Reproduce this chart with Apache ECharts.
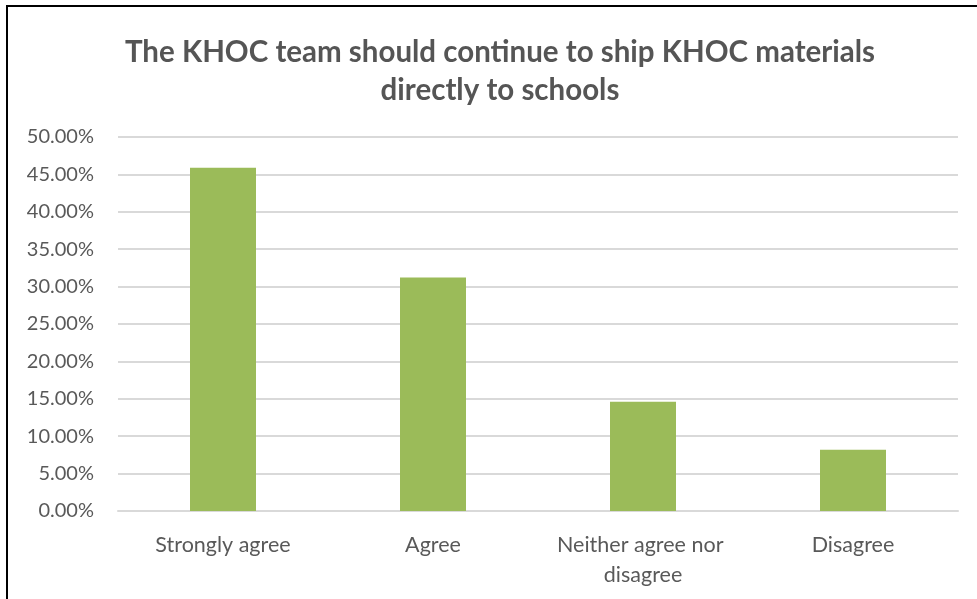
<!DOCTYPE html>
<html>
<head>
<meta charset="utf-8">
<script src="https://cdn.jsdelivr.net/npm/echarts@6/dist/echarts.min.js"></script>
<style>
  html, body { margin: 0; padding: 0; background: #fff; }
  #chart { width: 977px; height: 599px; }
</style>
</head>
<body>
<div id="chart"></div>
<script>
// Survey responses: share of respondents per answer
const titleText = 'The KHOC team should continue to ship KHOC materials\ndirectly to schools';
const categories = ['Strongly agree', 'Agree', 'Neither agree nor disagree', 'Disagree'];
const shares = [45.9, 31.2, 14.6, 8.2];
const yTicks = { min: 0, max: 50, interval: 5 };

const textColor = '#595959';
const fontFamily = 'Lato, "Open Sans", sans-serif';

const chart = echarts.init(document.getElementById('chart'), null, { renderer: 'canvas' });
chart.setOption({
  animation: false,
  backgroundColor: '#ffffff',
  title: {
    text: titleText,
    left: 495,
    textAlign: 'center',
    top: 28,
    textStyle: {
      color: '#555555',
      fontFamily: fontFamily,
      fontWeight: 'bold',
      fontSize: 29.5,
      lineHeight: 38
    }
  },
  graphic: [{
    type: 'rect',
    shape: { x: 7, y: 6, width: 1100, height: 1100 },
    style: { fill: 'none', stroke: '#000000', lineWidth: 2 },
    silent: true
  }],
  grid: { left: 118, right: 19, top: 137, bottom: 88, containLabel: false },
  xAxis: {
    type: 'category',
    data: categories,
    axisLine: { show: true, lineStyle: { color: '#D9D9D9', width: 2 } },
    axisTick: { show: false },
    axisLabel: {
      color: textColor,
      fontFamily: fontFamily,
      fontSize: 21.5,
      lineHeight: 30,
      margin: 19,
      width: 200,
      overflow: 'break',
      interval: 0
    }
  },
  yAxis: {
    type: 'value',
    min: yTicks.min,
    max: yTicks.max,
    interval: yTicks.interval,
    axisLine: { show: false },
    axisTick: { show: false },
    splitLine: { lineStyle: { color: '#D9D9D9', width: 2 } },
    axisLabel: {
      color: textColor,
      fontFamily: fontFamily,
      fontSize: 20,
      margin: 24,
      formatter: v => v.toFixed(2) + '%'
    }
  },
  series: [{
    type: 'bar',
    data: shares,
    barWidth: 66,
    itemStyle: { color: '#9BBB59' }
  }]
});
</script>
</body>
</html>
